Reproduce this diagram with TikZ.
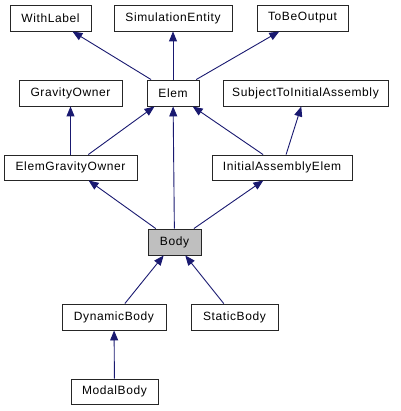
\documentclass[tikz,border=0pt]{standalone}
\usepackage{fontspec}
\setmainfont{Liberation Sans}[LetterSpace=5]
\usetikzlibrary{arrows.meta}
\definecolor{edgeblue}{RGB}{25,25,112}
\definecolor{selgray}{RGB}{191,191,191}
\begin{document}
\begin{tikzpicture}[x=1pt,y=-1pt,
	cls/.style={draw=black!85,line width=0.9pt,fill=white,inner sep=0pt,minimum height=26pt,font=\fontsize{12}{14}\selectfont},
	inherit/.style={draw=edgeblue,line width=0.9pt,-{Triangle[length=10pt,width=8pt]}}]

	\useasboundingbox (0,0) rectangle (400,411);

	% top row
	\node[cls,minimum width=81pt] (withlabel) at (50.5,18) {WithLabel};
	\node[cls,minimum width=118pt] (simentity) at (173,18) {SimulationEntity};
	\node[cls,minimum width=91pt] (tobeoutput) at (302.5,18) {ToBeOutput};

	% second row
	\node[cls,minimum width=103pt] (gravowner) at (70.5,93) {GravityOwner};
	\node[cls,minimum width=52pt] (elem) at (173,93) {Elem};
	\node[cls,minimum width=165pt] (subjinit) at (305.5,93) {SubjectToInitialAssembly};

	% third row
	\node[cls,minimum width=133pt,minimum height=25pt] (elemgrav) at (70.5,167.5) {ElemGravityOwner};
	\node[cls,minimum width=140pt,minimum height=25pt] (initelem) at (282,167.5) {InitialAssemblyElem};

	\node[cls,fill=selgray,minimum width=53pt] (body) at (174.5,242) {Body};

	\node[cls,minimum width=104pt] (dynbody) at (114,317) {DynamicBody};
	\node[cls,minimum width=87pt] (statbody) at (234.5,317) {StaticBody};
	\node[cls,minimum width=87pt,minimum height=25pt] (modalbody) at (114.5,391.5) {ModalBody};

	\draw[inherit] (elem) -- (withlabel);
	\draw[inherit] (elem) -- (simentity);
	\draw[inherit] (elem) -- (tobeoutput);
	\draw[inherit] (elemgrav) -- (gravowner);
	\draw[inherit] (elemgrav) -- (elem);
	\draw[inherit] (initelem) -- (elem);
	\draw[inherit] (initelem) -- (subjinit);
	\draw[inherit] (body) -- (elemgrav);
	\draw[inherit] (body) -- (elem);
	\draw[inherit] (body) -- (initelem);
	\draw[inherit] (dynbody) -- (body);
	\draw[inherit] (statbody) -- (body);
	\draw[inherit] (modalbody) -- (dynbody);

\end{tikzpicture}
\end{document}
